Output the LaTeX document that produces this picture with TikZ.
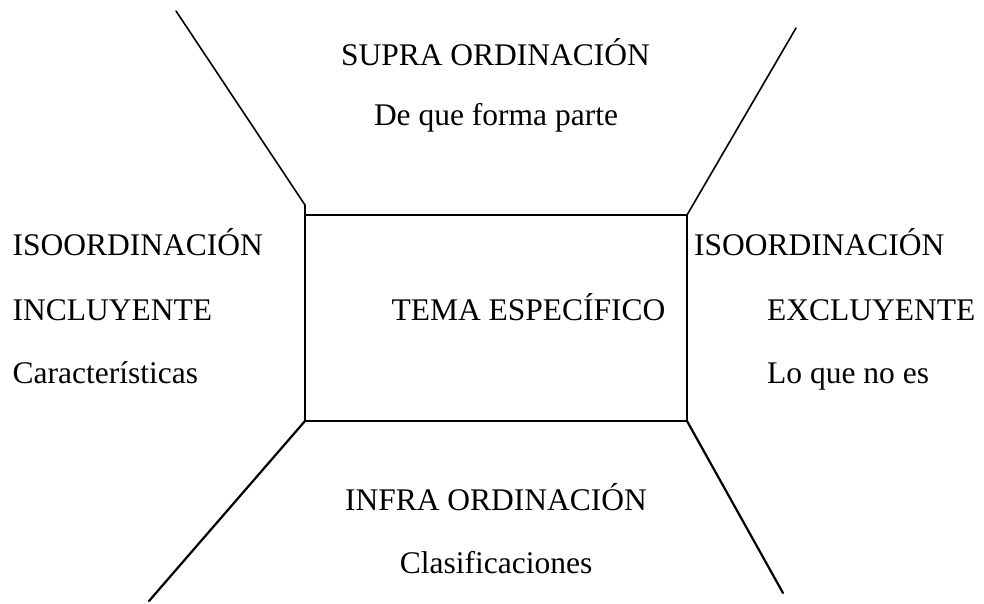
\documentclass[tikz,border=0pt]{standalone}
\usepackage{fontspec}
\setmainfont{Liberation Serif}
\begin{document}
\begin{tikzpicture}[x=1pt,y=-1pt,
  lbl/.style={inner sep=0pt, font=\fontsize{31.5}{38}\selectfont},
  edge/.style={line width=1.6pt, line cap=round},
  thick edge/.style={line width=2.2pt, line cap=round}]
\useasboundingbox (0,0) rectangle (984,603);
% corners and far ends
\coordinate (tl0) at (305,205);
\coordinate (tl) at (305,215);
\coordinate (tr) at (687,215);
\coordinate (bl) at (305,421);
\coordinate (br) at (687,421);
\coordinate (ftl) at (176,11);
\coordinate (ftr) at (796,28);
\coordinate (fbl) at (149,601);
\coordinate (fbr) at (783,593);
% box
\draw[edge] (tl0) -- (bl) -- (br) -- (tr) -- (tl);
% diagonals
\draw[edge] (tl0) -- (ftl);
\draw[edge] (tr) -- (ftr);
\draw[thick edge] (bl) -- (fbl);
\draw[thick edge] (br) -- (fbr);
% texts
\node[lbl, anchor=base] (supra) at (495.5,65) {SUPRA ORDINACIÓN};
\node[lbl, anchor=base] (supra2) at (496,125) {De que forma parte};
\node[lbl, anchor=base west] (isoL) at (12.5,255) {ISOORDINACIÓN};
\node[lbl, anchor=base west] (incl) at (12.5,320) {INCLUYENTE};
\node[lbl, anchor=base west] (car) at (12.5,383) {Características};
\node[lbl, anchor=base west] (isoR) at (694,255) {ISOORDINACIÓN};
\node[lbl, anchor=base west] (excl) at (767,320) {EXCLUYENTE};
\node[lbl, anchor=base west] (lqn) at (767,383) {Lo que no es};
\node[lbl, anchor=base] (tema) at (528.5,320) {TEMA ESPECÍFICO};
\node[lbl, anchor=base] (infra) at (496,510) {INFRA ORDINACIÓN};
\node[lbl, anchor=base] (clas) at (496,573) {Clasificaciones};
\end{tikzpicture}
\end{document}
